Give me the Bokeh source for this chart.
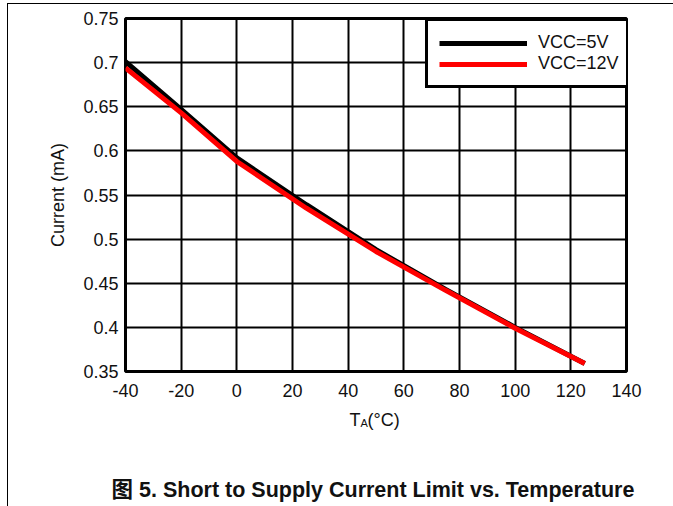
from bokeh.plotting import figure
from bokeh.layouts import column
from bokeh.models import Range1d, FixedTicker, Legend, LegendItem
from bokeh.core.properties import value
from bokeh.embed import file_html
from bokeh.resources import INLINE

# ---- data ----
temp_c = [-40, -20, 0, 25, 50, 75, 100, 125]
current_5v = [0.701, 0.647, 0.592, 0.539, 0.488, 0.443, 0.400, 0.359]
current_12v = [0.694, 0.643, 0.588, 0.535, 0.486, 0.442, 0.399, 0.359]
series_names = ["VCC=5V", "VCC=12V"]
x_ticks = [-40, -20, 0, 20, 40, 60, 80, 100, 120, 140]
y_ticks = [0.35, 0.4, 0.45, 0.5, 0.55, 0.6, 0.65, 0.7, 0.75]
y_axis_title = "Current (mA)"
x_title_parts = ["T", "A", "(°C)"]
caption = "图 5. Short to Supply Current Limit vs. Temperature"

FONT = "Liberation Sans"
W = 665
H_MAIN, H_CAP = 406, 96

# ---------------- main chart ----------------
p = figure(width=W, height=H_MAIN, output_backend="svg", toolbar_location=None,
           x_range=Range1d(-40, 140), y_range=Range1d(0.35, 0.75),
           min_border_left=117, min_border_right=47,
           min_border_top=14, min_border_bottom=H_MAIN - 14 - 353,
           background_fill_color="white", border_fill_color="white")

p.outline_line_color = "black"
p.outline_line_width = 3
p.outline_line_alpha = 1

for g, ticks in ((p.xgrid, x_ticks), (p.ygrid, y_ticks)):
    g.ticker = FixedTicker(ticks=ticks)
    g.grid_line_color = "black"
    g.grid_line_width = 2

p.xaxis.ticker = FixedTicker(ticks=x_ticks)
p.yaxis.ticker = FixedTicker(ticks=y_ticks)
p.yaxis.major_label_overrides = {v: f"{v:g}" for v in y_ticks}
p.xaxis.major_label_overrides = {v: f"{v:g}" for v in x_ticks}

for ax in (p.xaxis[0], p.yaxis[0]):
    ax.axis_line_color = None
    ax.major_tick_line_color = None
    ax.minor_tick_line_color = None
    ax.major_tick_in = 0
    ax.major_tick_out = 0
    ax.major_label_text_font = FONT
    ax.major_label_text_font_size = "18px"
    ax.major_label_text_color = "#111111"
    ax.axis_label_text_font = FONT
    ax.axis_label_text_font_size = "18px"
    ax.axis_label_text_font_style = "normal"
    ax.axis_label_text_color = "#111111"

p.xaxis.major_label_standoff = 12
p.yaxis.major_label_standoff = 7
p.yaxis.axis_label = y_axis_title
p.yaxis.axis_label_standoff = 12

l5 = p.line(temp_c, current_5v, line_color="black", line_width=5)
l12 = p.line(temp_c, current_12v, line_color="#ff0000", line_width=5)

legend = Legend(items=[LegendItem(label=series_names[0], renderers=[l5]),
                       LegendItem(label=series_names[1], renderers=[l12])],
                location=(300, 283), margin=0, padding=11, spacing=0,
                glyph_width=88, glyph_height=20, label_height=20, label_width=80,
                label_standoff=11,
                label_text_font=FONT, label_text_font_size="18px",
                label_text_color="#111111",
                border_line_color="black", border_line_width=3, border_line_alpha=1,
                background_fill_color="white", background_fill_alpha=1)
p.add_layout(legend)

# ---------------- x title + caption strip ----------------
q = figure(width=W, height=H_CAP, output_backend="svg", toolbar_location=None,
           x_range=Range1d(0, W), y_range=Range1d(0, H_CAP),
           x_axis_location=None, y_axis_location=None,
           min_border=0, min_border_left=0, min_border_right=0,
           min_border_top=0, min_border_bottom=0, outline_line_color=None,
           background_fill_color="white", border_fill_color="white")
q.xgrid.visible = False
q.ygrid.visible = False
for fig in (p, q):
    try:
        fig.frame_align = False
    except Exception:
        pass

q.text(x=[341], y=[H_CAP - 9], text=[x_title_parts[0]], text_font=value(FONT),
       text_font_size="18px", text_color="#111111", text_baseline="alphabetic")
q.text(x=[352], y=[H_CAP - 12.7], text=[x_title_parts[1]], text_font=value(FONT),
       text_font_size="11px", text_color="#111111", text_baseline="alphabetic")
q.text(x=[359], y=[H_CAP - 9], text=[x_title_parts[2]], text_font=value(FONT),
       text_font_size="18px", text_color="#111111", text_baseline="alphabetic")

q.text(x=[364.5], y=[17], text=[caption],
       text_font=value("'Liberation Sans', 'Noto Sans CJK SC'"),
       text_font_size="21.5px", text_font_style="bold", text_color="#111111",
       text_align="center", text_baseline="middle")

layout = column(p, q, spacing=0)
layout.styles = {"margin-left": "7px", "margin-top": "3px",
                 "border-left": "1px solid black", "border-top": "1px solid black"}

open("out.html", "w").write(file_html(layout, INLINE))
